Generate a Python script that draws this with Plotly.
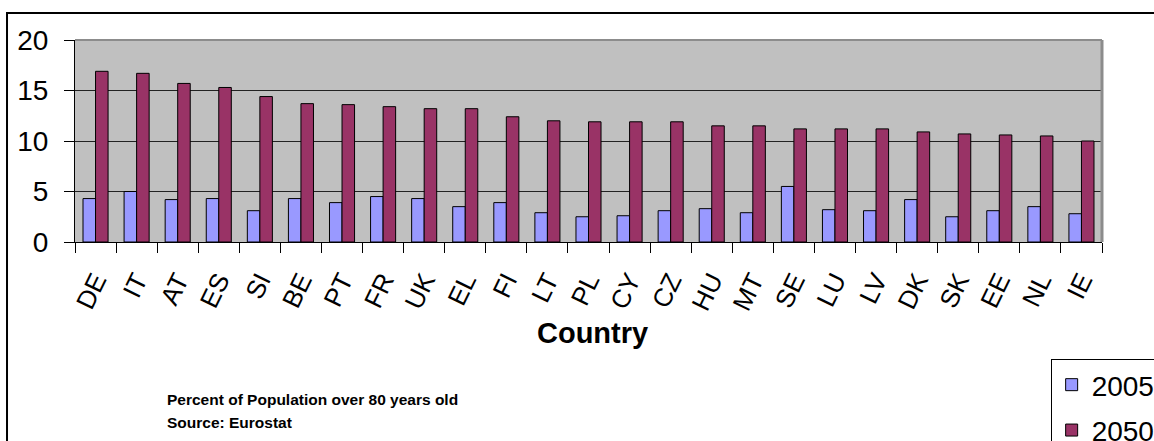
import plotly.graph_objects as go

countries = ["DE", "IT", "AT", "ES", "SI", "BE", "PT", "FR", "UK", "EL", "FI", "LT", "PL",
             "CY", "CZ", "HU", "MT", "SE", "LU", "LV", "DK", "SK", "EE", "NL", "IE"]
v2005 = [4.3, 5.0, 4.2, 4.3, 3.1, 4.3, 3.9, 4.5, 4.3, 3.5, 3.9, 2.9, 2.5,
         2.6, 3.1, 3.3, 2.9, 5.5, 3.2, 3.1, 4.2, 2.5, 3.1, 3.5, 2.8]
v2050 = [16.9, 16.7, 15.7, 15.3, 14.4, 13.7, 13.6, 13.4, 13.2, 13.2, 12.4, 12.0, 11.9,
         11.9, 11.9, 11.5, 11.5, 11.2, 11.2, 11.2, 10.9, 10.7, 10.6, 10.5, 10.0]
y_ticks = [0, 5, 10, 15, 20]

FONT = "Liberation Sans, Arial, sans-serif"

fig = go.Figure()
fig.add_trace(go.Bar(name="2005", x=countries, y=v2005, legendgroup="a",
                     marker=dict(color="#9999FF", line=dict(color="#000000", width=1))))
fig.add_trace(go.Bar(name="2050", x=countries, y=v2050, legendgroup="b",
                     marker=dict(color="#993366", line=dict(color="#000000", width=1))))

fig.update_layout(
    width=1154, height=441,
    margin=dict(l=75, r=52, t=40, b=199, autoexpand=False),
    paper_bgcolor="white", plot_bgcolor="#C0C0C0",
    barmode="group", bargap=0.39, bargroupgap=0,
    font=dict(family=FONT, color="black"),
    showlegend=True,
    legend=dict(x=0.95, y=-0.579, xanchor="left", yanchor="top",
                bordercolor="black", borderwidth=1, bgcolor="white",
                font=dict(size=28, family=FONT), traceorder="grouped",
                tracegroupgap=6, itemclick=False),
    xaxis=dict(type="category", showline=True, linecolor="black", linewidth=1,
               ticks="outside", tickson="boundaries", ticklen=10, tickcolor="black",
               tickangle=-64, tickfont=dict(size=26, family=FONT),
               ticklabelstandoff=12, showgrid=False),
    yaxis=dict(range=[0, 20], tickvals=y_ticks, showline=True, linecolor="black",
               linewidth=1, ticks="outside", ticklen=10, tickcolor="black",
               tickfont=dict(size=28, family=FONT), ticklabelstandoff=10,
               showgrid=True, gridcolor="#222222", gridwidth=1, zeroline=False),
    shapes=[
        dict(type="line", xref="paper", yref="paper", x0=0, x1=1, y0=1, y1=1,
             line=dict(color="#8C8C8C", width=2), layer="above"),
        dict(type="line", xref="paper", yref="paper", x0=1, x1=1, y0=0, y1=1,
             line=dict(color="#8C8C8C", width=3), layer="above"),
        dict(type="rect", xref="paper", yref="paper", x0=-0.0662, x1=1.3, y0=-1.5, y1=1.134,
             line=dict(color="black", width=2), layer="above"),
    ],
    annotations=[
        dict(text="<b>Country</b>", xref="paper", yref="paper", x=0.504, y=-0.45,
             xanchor="center", yanchor="middle", showarrow=False,
             font=dict(size=29, family=FONT)),
        dict(text="<b>Percent of Population over 80 years old</b>", xref="paper", yref="paper",
             x=0.0876, y=-0.782, xanchor="left", yanchor="middle", showarrow=False,
             font=dict(size=15.5, family=FONT)),
        dict(text="<b>Source: Eurostat</b>", xref="paper", yref="paper",
             x=0.0876, y=-0.896, xanchor="left", yanchor="middle", showarrow=False,
             font=dict(size=15.5, family=FONT)),
    ],
)

fig.write_html("out.html", config={"displayModeBar": False},
               post_script="document.body.style.margin='0';document.body.style.overflow='hidden';")
